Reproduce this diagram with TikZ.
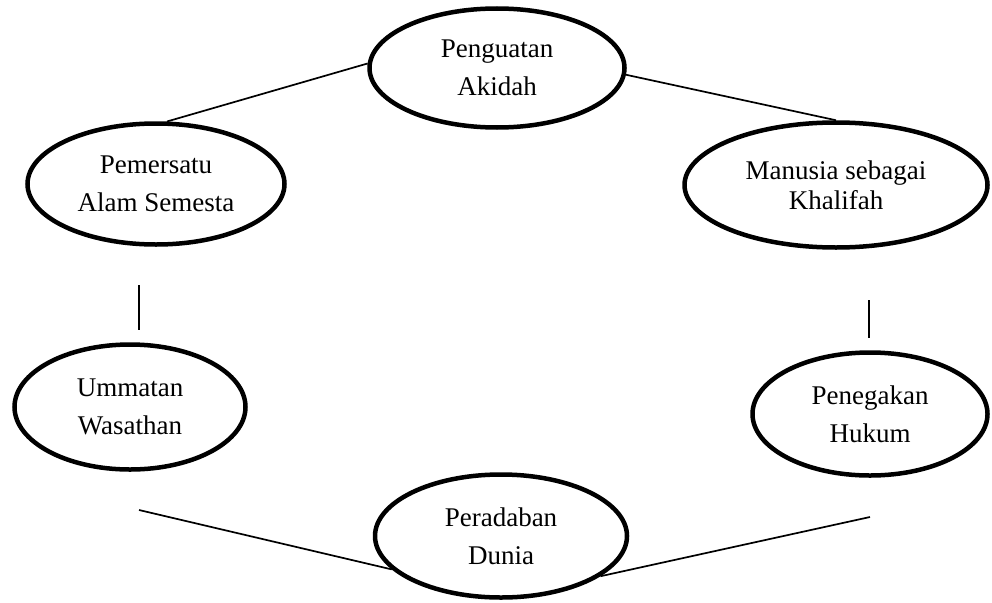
\documentclass[tikz,border=0pt]{standalone}
\usepackage{fontspec}
\setmainfont{Liberation Serif}
\usetikzlibrary{shapes.geometric}

\begin{document}
\begin{tikzpicture}[x=1pt, y=-1pt,
    bubble/.style={draw, ellipse, line width=4.5pt, inner sep=0pt, align=center,
        font=\fontsize{27}{38}\selectfont},
    link/.style={line width=1.7pt}]
    \useasboundingbox (0,0) rectangle (992,602);
    \node[bubble, minimum width=255pt, minimum height=119pt] (akidah) at (497,68) {Penguatan\\Akidah};
    \node[bubble, minimum width=257pt, minimum height=121pt] (pemersatu) at (156,184) {Pemersatu\\Alam Semesta};
    \node[bubble, minimum width=303pt, minimum height=125pt,
        font=\fontsize{27}{30}\selectfont] (khalifah) at (836,185) {Manusia sebagai\\Khalifah};
    \node[bubble, minimum width=231pt, minimum height=125pt] (ummatan) at (130,407) {Ummatan\\Wasathan};
    \node[bubble, minimum width=235pt, minimum height=123pt] (hukum) at (870,414) {Penegakan\\Hukum};
    \node[bubble, minimum width=252pt, minimum height=123pt] (peradaban) at (501,536) {Peradaban\\Dunia};
    % free ends of the short strokes
    \coordinate (kiriA) at (139,285);
    \coordinate (kiriB) at (139,330);
    \coordinate (kananA) at (869,300);
    \coordinate (kananB) at (869,338);
    \coordinate (kiriC) at (139,510);
    \coordinate (kananC) at (870,517);
    \draw[link] (pemersatu.80) -- (akidah.178);
    \draw[link] (akidah.357) -- (khalifah.north);
    \draw[link] (kiriA) -- (kiriB);
    \draw[link] (kananA) -- (kananB);
    \draw[link] (kiriC) -- (peradaban.197);
    \draw[link] (peradaban.338) -- (kananC);
\end{tikzpicture}
\end{document}
